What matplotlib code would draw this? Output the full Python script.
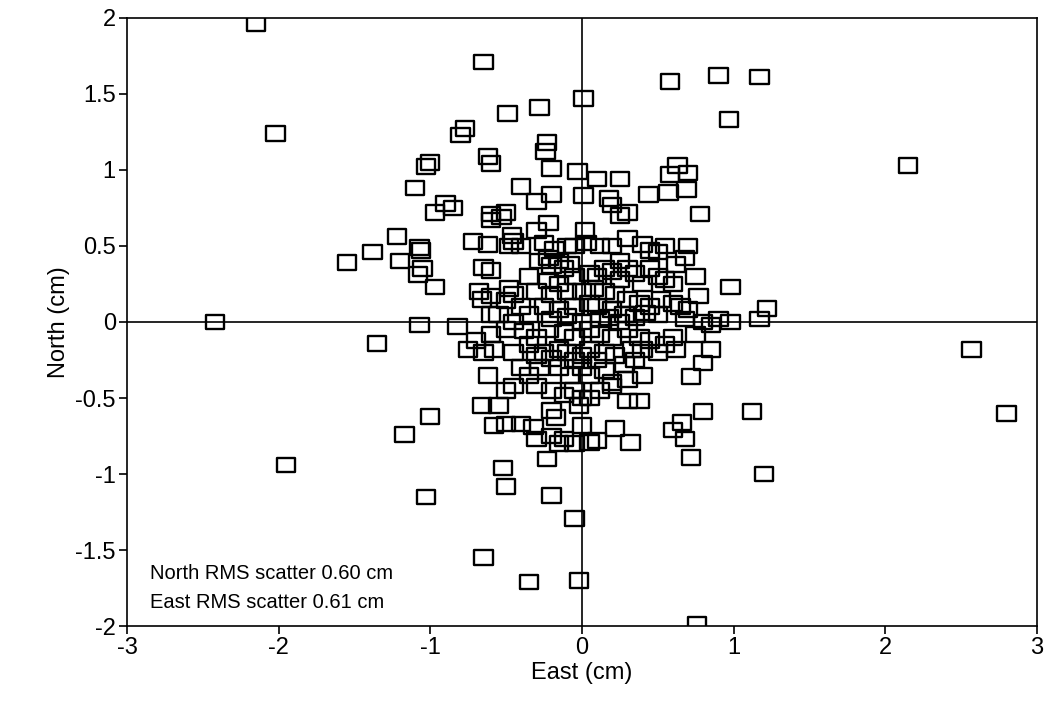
# GPS position scatter: East vs North residuals (cm)

import numpy as np
import matplotlib.pyplot as plt
from matplotlib.path import Path

plt.rcParams['font.family'] = ['Liberation Sans', 'DejaVu Sans']

# east, north residuals (cm)
east = [
    -2.15, -2.02, -0.65, -0.28, 0.01, -0.49, 0.58, 0.90, 1.17, 0.97, 2.15,
    -0.77, -0.80, -0.62, -0.60, -0.23, -0.24, -1.00, -1.03, -1.10, -0.40, -0.03,
    -0.20, -0.20, 0.01, 0.10, 0.25, 0.63, 0.58, 0.70, 0.57, 0.69, 0.44, 0.18,
    0.20, 0.30, 0.25, 0.78, -0.90, -0.85, -0.97, -0.50, -0.53, -0.60, -0.60,
    -0.30, -0.30, -0.22,
    -1.22, -1.38, -1.07, -1.06, -1.55, -1.20, -1.05, -1.08, -0.97, -0.72, -0.62,
    -0.46, -0.45, -0.48, -0.40, -0.25, -0.18, -0.10, -0.05, 0.02, 0.03, 0.12,
    0.20, 0.30, 0.40, 0.45, 0.55, 0.70, 0.62, 0.68, 0.25, 0.50,
    -0.65, -0.60, -0.68, -0.66, -0.60, -0.48, -0.45, -0.50, -0.35, -0.28, -0.22,
    -0.20, -0.15, -0.12, -0.08, -0.22, -0.15, -0.05, 0.05, 0.10, 0.15, 0.20,
    0.25, 0.30, 0.35, 0.40, 0.45, 0.50, 0.55, 0.60, 0.75, 0.98, 0.77, 0.52,
    0.60, 0.65, 0.70, 0.68, 0.80, 0.85, 0.98, 1.17, 1.22, 0.90,
    -0.30, -0.20, -0.10, 0.00, 0.08, 0.15, 0.22, 0.30, 0.38, 0.45, -0.40, -0.35,
    -0.25, -0.15, -0.05, 0.05, 0.10, 0.20, 0.28, 0.35, 0.42, 0.50, -0.55, -0.60,
    -0.45, -0.20, -0.10, 0.00, 0.12, 0.18, 0.25,
    -2.42, -1.07, -0.82, -1.35, -0.75, -0.70, -0.65, -0.58, -0.60, -0.50, -0.38,
    -0.30, -0.22, -0.12, -0.05, 0.05, 0.12, 0.20, 0.30, 0.38, 0.45, 0.55, 0.50,
    0.60, 0.62, 0.75, 0.85, 0.40, 0.33,
    -0.45, -0.35, -0.30, -0.25, -0.20, -0.15, -0.10, -0.05, 0.00, 0.05, 0.10,
    0.15, 0.22, 0.28, 0.35, -0.40, -0.35, -0.28, -0.15, -0.08, 0.00, 0.05, 0.15,
    0.20, 0.30, 0.40, -0.62, -0.50, -0.45, -0.30, -0.20, -0.12, -0.05, 0.05,
    0.12, 0.20, 0.30, 0.38, -0.02, 0.00, 0.72, 0.80,
    -0.66, -0.55, -0.50, -0.58, -0.40, -0.32, -0.30, -0.20, -0.15, -0.12, -0.20,
    -0.05, 0.05, 0.10, 0.32, 0.22, 0.00, 0.60, 0.66, 0.68, 0.72, 0.80, 1.12,
    1.20, -0.23, -0.17, -1.00, -1.17, -1.95, -1.03, -0.52, -0.50, -0.20, -0.05,
    -0.65, -0.35, -0.02, 0.76, 2.57, 2.80,
]
north = [
    1.96, 1.24, 1.71, 1.41, 1.47, 1.37, 1.58, 1.62, 1.61, 1.33, 1.03,
    1.27, 1.23, 1.09, 1.04, 1.18, 1.12, 1.05, 1.02, 0.88, 0.89, 0.99,
    1.01, 0.84, 0.83, 0.94, 0.94, 1.03, 0.97, 0.98, 0.85, 0.87, 0.84, 0.81,
    0.77, 0.72, 0.70, 0.71, 0.78, 0.75, 0.72, 0.72, 0.69, 0.71, 0.67,
    0.79, 0.60, 0.65,
    0.56, 0.46, 0.49, 0.47, 0.39, 0.40, 0.35, 0.31, 0.23, 0.53, 0.51,
    0.57, 0.53, 0.50, 0.50, 0.52, 0.48, 0.50, 0.50, 0.60, 0.52, 0.50,
    0.50, 0.55, 0.51, 0.47, 0.50, 0.50, 0.38, 0.42, 0.40, 0.46,
    0.36, 0.34, 0.20, 0.15, 0.17, 0.22, 0.18, 0.14, 0.30, 0.40, 0.42,
    0.37, 0.40, 0.35, 0.38, 0.27, 0.25, 0.30, 0.32, 0.30, 0.35, 0.33,
    0.28, 0.35, 0.32, 0.25, 0.35, 0.30, 0.28, 0.25, 0.30, 0.23, 0.17, 0.15,
    0.12, 0.10, 0.08, 0.02, 0.00, -0.02, 0.00, 0.02, 0.09, 0.02,
    0.20, 0.18, 0.20, 0.20, 0.22, 0.20, 0.18, 0.15, 0.12, 0.10, 0.10, 0.05,
    0.10, 0.08, 0.10, 0.12, 0.10, 0.08, 0.05, 0.03, 0.06, 0.05, 0.05, 0.05,
    0.00, 0.02, 0.04, 0.00, 0.02, 0.03, 0.00,
    0.00, -0.02, -0.03, -0.14, -0.18, -0.12, -0.20, -0.18, -0.08, -0.05, -0.06,
    -0.10, -0.05, -0.07, -0.10, -0.05, -0.08, -0.10, -0.05, -0.10, -0.12, -0.15, -0.20,
    -0.10, -0.18, -0.08, -0.18, -0.18, -0.18,
    -0.20, -0.15, -0.22, -0.20, -0.24, -0.18, -0.20, -0.25, -0.22, -0.18, -0.25,
    -0.20, -0.22, -0.28, -0.25, -0.30, -0.35, -0.30, -0.30, -0.35, -0.30, -0.35, -0.32,
    -0.40, -0.38, -0.35, -0.35, -0.45, -0.42, -0.42, -0.45, -0.48, -0.45, -0.50,
    -0.45, -0.42, -0.52, -0.52, -0.55, -0.50, -0.36, -0.27,
    -0.55, -0.55, -0.67, -0.68, -0.67, -0.69, -0.77, -0.75, -0.80, -0.77, -0.58,
    -0.80, -0.79, -0.78, -0.79, -0.70, -0.68, -0.71, -0.66, -0.77, -0.89, -0.59, -0.59,
    -1.00, -0.90, -0.63, -0.62, -0.74, -0.94, -1.15, -0.96, -1.08, -1.14, -1.29,
    -1.55, -1.71, -1.70, -1.99, -0.18, -0.60,
]

# near-square box marker like the original plot symbol
box = Path([(-1, -0.8), (1, -0.8), (1, 0.8), (-1, 0.8), (-1, -0.8)],
           [Path.MOVETO, Path.LINETO, Path.LINETO, Path.LINETO, Path.CLOSEPOLY])

fig = plt.figure(figsize=(10.58, 7.10), dpi=100)
ax = fig.add_axes([0.120, 0.118, 0.860, 0.857])

ax.axhline(0, color='black', linewidth=1.2, zorder=1)
ax.axvline(0, color='black', linewidth=1.2, zorder=1)
ax.scatter(east, north, marker=box, s=175, facecolors='none',
           edgecolors='black', linewidths=1.7, zorder=2)

ax.set_xlim(-3, 3)
ax.set_ylim(-2, 2)
ax.set_xticks(np.arange(-3, 4, 1))
ax.set_yticks(np.arange(-2, 2.5, 0.5))
ax.set_xticklabels(['-3', '-2', '-1', '0', '1', '2', '3'])
ax.set_yticklabels(['-2', '-1.5', '-1', '-0.5', '0', '0.5', '1', '1.5', '2'])
ax.tick_params(direction='out', length=6, width=1.2, labelsize=17, pad=2)
for sp in ax.spines.values():
    sp.set_linewidth(1.2)

ax.set_xlabel('East (cm)', fontsize=17, labelpad=2)
ax.set_ylabel('North (cm)', fontsize=17, labelpad=4)

ax.text(0.025, 0.087, 'North RMS scatter 0.60 cm', transform=ax.transAxes,
        fontsize=14.5, va='center')
ax.text(0.025, 0.039, 'East RMS scatter 0.61 cm', transform=ax.transAxes,
        fontsize=14.5, va='center')

plt.savefig('out.png', dpi=100)
plt.close()
